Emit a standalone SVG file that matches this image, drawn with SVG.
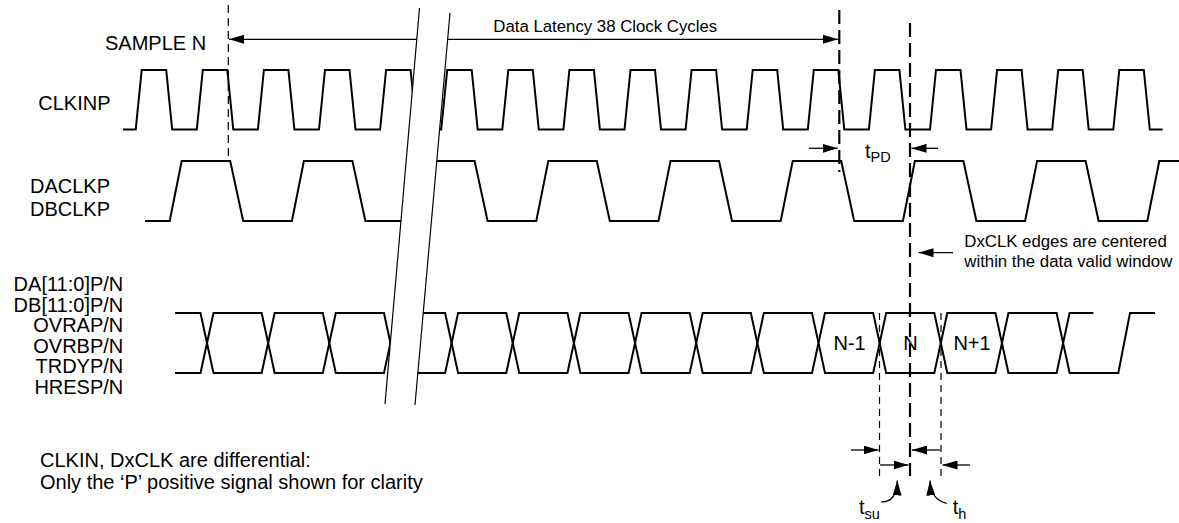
<svg xmlns="http://www.w3.org/2000/svg" width="1179" height="523" viewBox="0 0 1179 523">
<style>
.wave{fill:none;stroke:#000;stroke-width:2}
.brk{fill:none;stroke:#000;stroke-width:1.2}
.arr{fill:none;stroke:#000;stroke-width:1.3;marker-end:url(#ah)}
.dthin{fill:none;stroke:#000;stroke-width:1.2;stroke-dasharray:8 5}
.dthick{fill:none;stroke:#000;stroke-width:2.2;stroke-dasharray:14 6}
.lbl{font-family:"Liberation Sans",Arial,sans-serif;font-size:20px;fill:#000}
.sm{font-family:"Liberation Sans",Arial,sans-serif;font-size:16.8px;fill:#000}
.sub{font-size:14.5px}
</style>
<defs>
<marker id="ah" viewBox="0 0 15 9" markerWidth="15" markerHeight="9" markerUnits="userSpaceOnUse" refX="15" refY="4.5" orient="auto">
<path d="M0,0 L15,4.5 L0,9 Z" fill="#000"/>
</marker>
</defs>
<rect width="1179" height="523" fill="#fff"/>

<g id="waveforms">
<path id="clkinp" class="wave" d="M123 129.5 H135.7 l6 -59.5 h24.5 l6 59.5 h24.6 l6 -59.5 h24.5 l6 59.5 h24.6 l6 -59.5 h24.5 l6 59.5 h24.6 l6 -59.5 h24.5 l6 59.5 h24.6 l6 -59.5 h24.5 l6 59.5 h24.6 l6 -59.5 h24.5 l6 59.5 h24.6 l6 -59.5 h24.5 l6 59.5 h24.6 l6 -59.5 h24.5 l6 59.5 h24.6 l6 -59.5 h24.5 l6 59.5 h24.6 l6 -59.5 h24.5 l6 59.5 h24.6 l6 -59.5 h24.5 l6 59.5 h24.6 l6 -59.5 h24.5 l6 59.5 h24.6 l6 -59.5 h24.5 l6 59.5 h24.6 l6 -59.5 h24.5 l6 59.5 h24.6 l6 -59.5 h24.5 l6 59.5 h24.6 l6 -59.5 h24.5 l6 59.5 h24.6 l6 -59.5 h24.5 l6 59.5 H1162.7"/>
<path id="dxclk" class="wave" d="M145 221 H169.7 l12 -60 h48.5 l13 60 h48.7 l12 -60 h48.5 l13 60 h48.7 l12 -60 h48.5 l13 60 h48.7 l12 -60 h48.5 l13 60 h48.7 l12 -60 h48.5 l13 60 h48.7 l12 -60 h48.5 l13 60 h48.7 l12 -60 h48.5 l13 60 h48.7 l12 -60 h48.5 l13 60 h48.7 l12 -60 H1179"/>
<path id="data1" class="wave" d="M175 313 H200.5 L213.5 373 H261.65 L274.65 313 H322.8 L335.8 373 H383.95 L396.95 313 H445.1 L458.1 373 H506.25 L519.25 313 H567.4 L580.4 373 H628.55 L641.55 313 H689.7 L702.7 373 H750.85 L763.85 313 H812 L825 373 H873.15 L886.15 313 H934.3 L947.3 373 H995.45 L1008.45 313 H1056.6 L1069.6 373 H1118.3 L1130 313 H1155"/>
<path id="data2" class="wave" d="M175 373 H200.5 L213.5 313 H261.65 L274.65 373 H322.8 L335.8 313 H383.95 L396.95 373 H445.1 L458.1 313 H506.25 L519.25 373 H567.4 L580.4 313 H628.55 L641.55 373 H689.7 L702.7 313 H750.85 L763.85 373 H812 L825 313 H873.15 L886.15 373 H934.3 L947.3 313 H995.45 L1008.45 373 H1056.6 L1069.6 313 H1093.3"/>
</g>

<g id="connectors">
<path class="arr" d="M417 39.3 H229"/>
<path class="arr" d="M447 39.3 H838"/>
<path class="arr" d="M809 148.3 H837.5"/>
<path class="arr" d="M938 148.3 H911.5"/>
<path class="arr" d="M953 252.7 H918.5"/>
<path class="arr" d="M851 450 H878.5"/>
<path class="arr" d="M940 450 H912"/>
<path class="arr" d="M880 465 H908.5"/>
<path class="arr" d="M970 465 H942.5"/>
<path class="arr" d="M881.5 502 Q897 502 897.3 480.5"/>
<path class="arr" d="M946.7 503.3 Q931 500 930 480.5"/>
</g>

<g id="break">
<polygon points="419.5,8 450,13 415,405 385,404" fill="#fff"/>
<line class="brk" x1="419.5" y1="8" x2="385" y2="404"/>
<line class="brk" x1="450" y1="13" x2="415" y2="405"/>
</g>

<g id="markers">
<line class="dthin" x1="228.3" y1="5" x2="228.3" y2="160"/>
<line class="dthick" x1="839.3" y1="10" x2="839.3" y2="172"/>
<line class="dthick" x1="910" y1="23" x2="910" y2="476"/>
<line class="dthin" style="stroke-dasharray:7 5" x1="879.5" y1="313" x2="879.5" y2="481"/>
<line class="dthin" style="stroke-dasharray:7 5" x1="941" y1="313" x2="941" y2="481"/>
</g>

<g id="labels">
<text class="lbl" x="105" y="50">SAMPLE N</text>
<text class="lbl" x="38.3" y="110">CLKINP</text>
<text class="lbl" x="30" y="192.7">DACLKP</text>
<text class="lbl" x="30" y="216">DBCLKP</text>
<text class="lbl" text-anchor="end" x="123.3" y="291">DA[11:0]P/N</text>
<text class="lbl" text-anchor="end" x="123.3" y="311.5">DB[11:0]P/N</text>
<text class="lbl" text-anchor="end" x="123.3" y="332">OVRAP/N</text>
<text class="lbl" text-anchor="end" x="123.3" y="352.5">OVRBP/N</text>
<text class="lbl" text-anchor="end" x="123.3" y="373">TRDYP/N</text>
<text class="lbl" text-anchor="end" x="123.3" y="393.5">HRESP/N</text>
<text class="sm" x="493.3" y="31.7">Data Latency 38 Clock Cycles</text>
<text class="lbl" x="865" y="158">t<tspan class="sub" dy="4">PD</tspan></text>
<text class="sm" x="964.3" y="247.3">DxCLK edges are centered</text>
<text class="sm" x="964.3" y="266.7">within the data valid window</text>
<text class="lbl" text-anchor="middle" x="849.6" y="350">N-1</text>
<text class="lbl" text-anchor="middle" x="910.5" y="350">N</text>
<text class="lbl" text-anchor="middle" x="972" y="350">N+1</text>
<text class="lbl" x="859" y="514.3">t<tspan class="sub" dy="4.7">su</tspan></text>
<text class="lbl" x="952.7" y="514.3">t<tspan class="sub" dy="4.7">h</tspan></text>
<text class="lbl" x="40" y="467">CLKIN, DxCLK are differential:</text>
<text class="lbl" x="40" y="489">Only the ‘P’ positive signal shown for clarity</text>
</g>
</svg>
